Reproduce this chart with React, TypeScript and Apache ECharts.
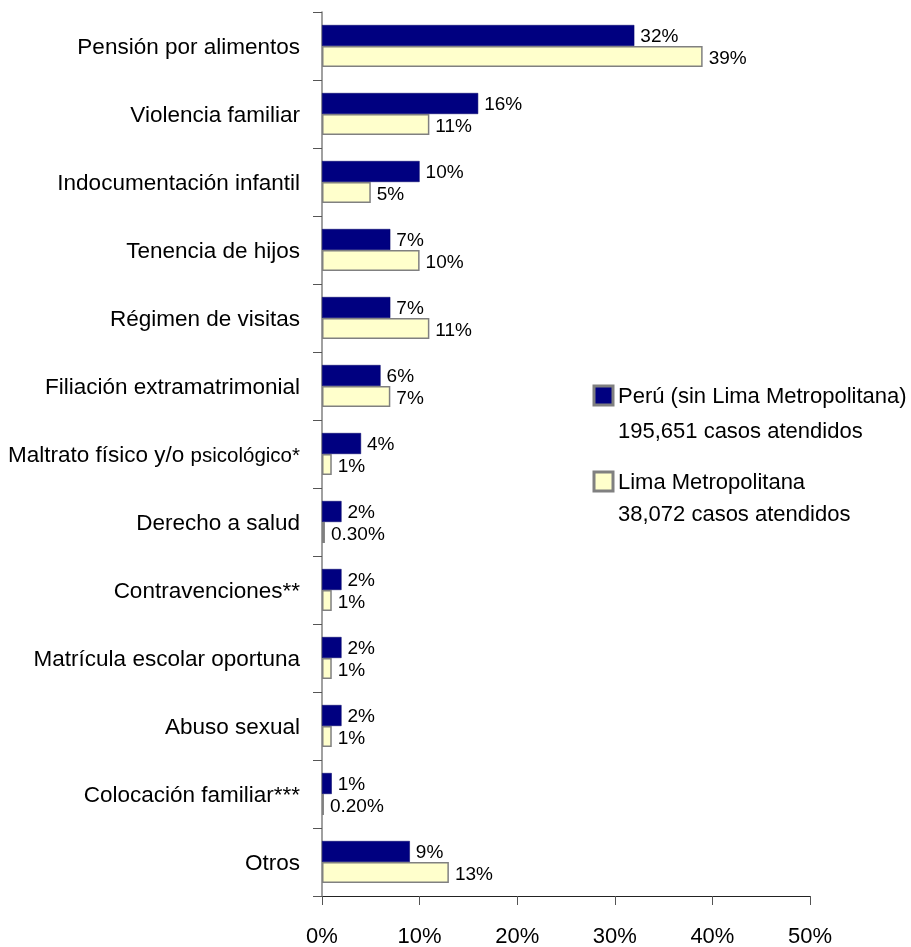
import React, { useEffect, useRef } from "react";
import * as echarts from "echarts";

const categories = [
  "Pensión por alimentos",
  "Violencia familiar",
  "Indocumentación infantil",
  "Tenencia de hijos",
  "Régimen de visitas",
  "Filiación extramatrimonial",
  "Maltrato físico y/o psicológico*",
  "Derecho a salud",
  "Contravenciones**",
  "Matrícula escolar oportuna",
  "Abuso sexual",
  "Colocación familiar***",
  "Otros",
];
const peruValues = [32, 16, 10, 7, 7, 6, 4, 2, 2, 2, 2, 1, 9];
const limaValues = [39, 11, 5, 10, 11, 7, 1, 0.3, 1, 1, 1, 0.2, 13];
const xTicks = [0, 10, 20, 30, 40, 50];
const legendPeru = ["Perú (sin Lima Metropolitana)", "195,651 casos atendidos"];
const legendLima = ["Lima Metropolitana", "38,072 casos atendidos"];

const FONT = "'Liberation Sans', Arial, sans-serif";

const fmt = (v: number) => (v < 1 ? v.toFixed(2) : String(v)) + "%";

export default function App() {
  const ref = useRef<HTMLDivElement>(null);
  useEffect(() => {
    if (!ref.current) return;
    const chart = echarts.init(ref.current, null, { renderer: "svg" });
    chart.setOption({
      animation: false,
      textStyle: { fontFamily: FONT },
      grid: { left: 322, right: 101, top: 12, bottom: 51, containLabel: false },
      xAxis: {
        type: "value",
        min: xTicks[0],
        max: xTicks[xTicks.length - 1],
        interval: 10,
        splitLine: { show: false },
        axisLine: { show: true, lineStyle: { color: "#222", width: 1 } },
        axisTick: { show: true, length: 9, lineStyle: { color: "#555" } },
        axisLabel: {
          margin: 28,
          fontSize: 22,
          color: "#000",
          fontFamily: FONT,
          formatter: (v: number) => v + "%",
        },
      },
      yAxis: {
        type: "category",
        data: categories,
        inverse: true,
        axisLine: { show: true, lineStyle: { color: "#808080", width: 1.5 } },
        axisTick: { show: true, length: 9, lineStyle: { color: "#555" } },
        axisLabel: {
          margin: 22,
          fontSize: 22.5,
          color: "#000",
          fontFamily: FONT,
          formatter: (v: string) =>
            v.startsWith("Maltrato")
              ? "Maltrato físico y/o {s|psicológico*}"
              : v,
          rich: { s: { fontSize: 20.5, color: "#000", fontFamily: FONT } },
        },
      },
      series: [
        {
          name: legendPeru[0],
          type: "bar",
          data: peruValues,
          barWidth: 21,
          barGap: "0%",
          itemStyle: { color: "#000080", borderColor: "#000066", borderWidth: 0.5 },
          label: {
            show: true,
            position: "right",
            distance: 6,
            fontSize: 19,
            color: "#000",
            fontFamily: FONT,
            formatter: (p: any) => fmt(p.value),
          },
        },
        {
          name: legendLima[0],
          type: "bar",
          data: limaValues,
          barWidth: 21,
          barGap: "0%",
          itemStyle: { color: "#FFFFCC", borderColor: "#808080", borderWidth: 1.5 },
          label: {
            show: true,
            position: "right",
            distance: 6,
            fontSize: 19,
            color: "#000",
            fontFamily: FONT,
            offset: [0, 1],
            formatter: (p: any) => fmt(p.value),
          },
        },
      ],
      graphic: [
        {
          type: "rect",
          shape: { x: 594, y: 386, width: 19, height: 19 },
          style: { fill: "#000080", stroke: "#808080", lineWidth: 3 },
        },
        {
          type: "text",
          x: 618,
          y: 395,
          style: { text: legendPeru[0], fontSize: 22, fill: "#000", fontFamily: FONT, textVerticalAlign: "middle" },
        },
        {
          type: "text",
          x: 618,
          y: 430,
          style: { text: legendPeru[1], fontSize: 22, fill: "#000", fontFamily: FONT, textVerticalAlign: "middle" },
        },
        {
          type: "rect",
          shape: { x: 594, y: 472, width: 19, height: 19 },
          style: { fill: "#FFFFCC", stroke: "#808080", lineWidth: 3 },
        },
        {
          type: "text",
          x: 618,
          y: 481,
          style: { text: legendLima[0], fontSize: 22, fill: "#000", fontFamily: FONT, textVerticalAlign: "middle" },
        },
        {
          type: "text",
          x: 618,
          y: 513,
          style: { text: legendLima[1], fontSize: 22, fill: "#000", fontFamily: FONT, textVerticalAlign: "middle" },
        },
      ],
    });
    return () => chart.dispose();
  }, []);
  return (
    <div
      ref={ref}
      style={{ position: "fixed", left: 0, top: 0, width: 911, height: 947 }}
    />
  );
}
